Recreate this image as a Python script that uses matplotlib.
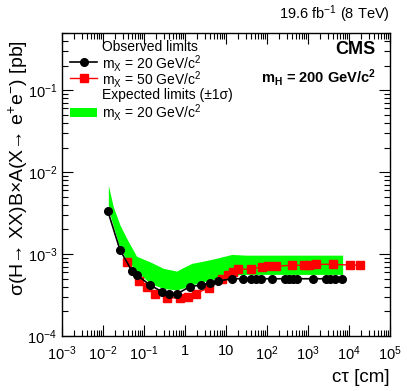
import matplotlib
matplotlib.use("Agg")
import matplotlib.pyplot as plt
from matplotlib.lines import Line2D
from matplotlib.patches import Rectangle
from matplotlib.ticker import FixedLocator, FixedFormatter, LogLocator, NullFormatter

plt.rcParams['font.family'] = ['Liberation Sans', 'DejaVu Sans']
plt.rcParams['mathtext.fontset'] = 'custom'
plt.rcParams['mathtext.rm'] = 'Liberation Sans'
plt.rcParams['mathtext.it'] = 'Liberation Sans'
plt.rcParams['mathtext.bf'] = 'Liberation Sans:bold'

# observed limit, mX = 20 GeV
obs20_ctau = [0.013, 0.026, 0.05, 0.068, 0.14, 0.28, 0.4, 0.63, 1.3, 2.5, 4.0, 6.5,
              14, 26, 40, 55, 70, 130, 270, 340, 430, 550, 1350, 2700, 3500, 4500, 6800]
obs20_lim = [3.4e-3, 1.12e-3, 6.3e-4, 5.5e-4, 4.2e-4, 3.45e-4, 3.3e-4, 3.25e-4, 4.0e-4,
             4.2e-4, 4.4e-4, 4.7e-4, 5.0e-4, 5.0e-4, 5.0e-4, 5.0e-4, 5.0e-4, 5.0e-4,
             5.0e-4, 5.0e-4, 5.0e-4, 5.0e-4, 5.0e-4, 5.0e-4, 5.0e-4, 5.0e-4, 5.0e-4]

# observed limit, mX = 50 GeV
obs50_ctau = [0.038, 0.075, 0.12, 0.185, 0.37, 0.75, 1.2, 1.85, 3.85, 7.9, 11.4, 14.6,
              19.3, 40, 74, 107, 165, 400, 810, 1075, 1580, 4000, 10500, 18500]
obs50_lim = [7.9e-4, 4.7e-4, 4.0e-4, 3.3e-4, 2.95e-4, 2.88e-4, 3.0e-4, 3.3e-4, 3.9e-4,
             4.9e-4, 5.5e-4, 6.1e-4, 6.55e-4, 6.55e-4, 7.0e-4, 7.1e-4, 7.1e-4, 7.3e-4,
             7.3e-4, 7.3e-4, 7.5e-4, 7.5e-4, 7.35e-4, 7.3e-4]

# expected limit band (+-1 sigma), mX = 20 GeV
exp_ctau = [0.0135, 0.0178, 0.026, 0.038, 0.066, 0.14, 0.296, 0.63, 0.83, 1.46, 2.8,
            5.9, 13.8, 32, 7000]
exp_hi = [6.9e-3, 3.8e-3, 2.26e-3, 1.55e-3, 9.4e-4, 8.05e-4, 6.7e-4, 6.2e-4, 6.7e-4,
          7.7e-4, 8.2e-4, 8.9e-4, 9.9e-4, 9.7e-4, 9.7e-4]
exp_lo = [3.6e-3, 2.2e-3, 1.17e-3, 8.5e-4, 6.2e-4, 4.4e-4, 3.8e-4, 3.65e-4, 3.8e-4,
          4.2e-4, 4.6e-4, 5.06e-4, 5.54e-4, 5.65e-4, 5.65e-4]

x_ticks = [1e-3, 1e-2, 1e-1, 1, 10, 1e2, 1e3, 1e4, 1e5]
x_ticklabels = ['$10^{-3}$', '$10^{-2}$', '$10^{-1}$', '1', '10',
                '$10^{2}$', '$10^{3}$', '$10^{4}$', '$10^{5}$']
y_ticks = [1e-4, 1e-3, 1e-2, 1e-1]
y_ticklabels = ['$10^{-4}$', '$10^{-3}$', '$10^{-2}$', '$10^{-1}$']

W, H = 407, 391
fig = plt.figure(figsize=(W / 100, H / 100), dpi=100)
ax = fig.add_axes([62 / W, 1 - 336 / H, 328 / W, 303 / H])

ax.fill_between(exp_ctau, exp_lo, exp_hi, color='#00ff00', linewidth=0, zorder=1)
ax.plot(obs20_ctau, obs20_lim, color='black', marker='o', markersize=5.5,
        linewidth=1.2, zorder=3)
ax.plot(obs50_ctau, obs50_lim, color='#ff0000', marker='s', markersize=5.5,
        linewidth=1.0, zorder=2)

ax.set_xscale('log')
ax.set_yscale('log')
ax.set_xlim(1e-3, 1e5)
ax.set_ylim(1e-4, 0.5)

ax.xaxis.set_major_locator(FixedLocator(x_ticks))
ax.xaxis.set_major_formatter(FixedFormatter(x_ticklabels))
ax.yaxis.set_major_locator(FixedLocator(y_ticks))
ax.yaxis.set_major_formatter(FixedFormatter(y_ticklabels))
ax.xaxis.set_minor_locator(LogLocator(base=10, subs=range(2, 10), numticks=20))
ax.yaxis.set_minor_locator(LogLocator(base=10, subs=range(2, 10), numticks=20))
ax.xaxis.set_minor_formatter(NullFormatter())
ax.yaxis.set_minor_formatter(NullFormatter())
ax.tick_params(which='both', direction='in', top=True, right=True, labelsize=10.5)
ax.tick_params(which='major', length=8, width=0.8)
ax.tick_params(which='minor', length=4, width=0.8)
ax.tick_params(axis='x', pad=6)
for s in ax.spines.values():
    s.set_linewidth(1.0)

def fy(py):
    return 1 - py / H

# axis titles, right-aligned like ROOT
fig.text(18 / W, fy(40), 'σ(H→ XX)B×A(X→ e$^{+}$e$^{-}$) [pb]', rotation=90,
         rotation_mode='anchor', ha='right', va='center', fontsize=14)
fig.text(390 / W, fy(377), 'cτ [cm]', ha='right', va='center', fontsize=13.5)

fig.text(390 / W, fy(14), '19.6 fb$^{-1}$ (8 TeV)', ha='right', va='center',
         fontsize=10.5)
fig.text(376 / W, fy(50), 'CMS', ha='right', va='center', fontsize=13, fontweight='bold')
fig.text(376 / W, fy(77), r'm$_{\mathbf{H}}$ = 200 GeV/c$^{\mathbf{2}}$',
         ha='right', va='center', fontsize=10.5, fontweight='bold')

# legend, laid out by hand in figure pixels
tx = 102 / W
fs = 10
fig.text(tx, fy(47), 'Observed limits', ha='left', va='center', fontsize=fs)
fig.text(tx, fy(63), 'm$_{X}$ = 20 GeV/c$^{2}$', ha='left', va='center', fontsize=fs)
fig.text(tx, fy(79), 'm$_{X}$ = 50 GeV/c$^{2}$', ha='left', va='center', fontsize=fs)
fig.text(tx, fy(95), 'Expected limits (±1σ)', ha='left', va='center', fontsize=fs)
fig.text(tx, fy(112), 'm$_{X}$ = 20 GeV/c$^{2}$', ha='left', va='center', fontsize=fs)
fig.add_artist(Line2D([70 / W, 97 / W], [fy(62), fy(62)], color='black', linewidth=1.2))
fig.add_artist(Line2D([84 / W], [fy(62)], color='black', marker='o', markersize=5.5))
fig.add_artist(Line2D([70 / W, 97 / W], [fy(78), fy(78)], color='#ff0000', linewidth=1.0))
fig.add_artist(Line2D([84 / W], [fy(78)], color='#ff0000', marker='s', markersize=5.5))
fig.add_artist(Rectangle((70 / W, fy(117)), 27 / W, 9 / H, facecolor='#00ff00',
                         edgecolor='none', transform=fig.transFigure))

fig.savefig('out.png', dpi=100)
